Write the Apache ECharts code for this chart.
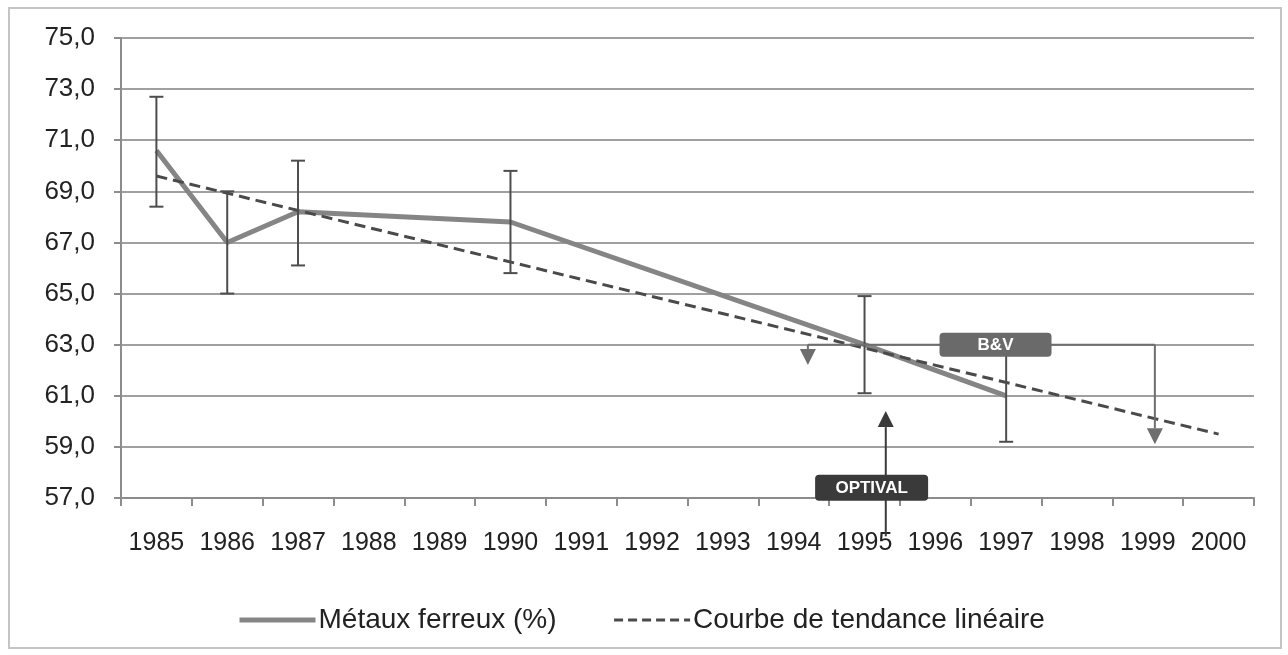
<!DOCTYPE html>
<html>
<head>
<meta charset="utf-8">
<script src="https://cdn.jsdelivr.net/npm/echarts@6/dist/echarts.min.js"></script>
<style>
  html, body { margin: 0; padding: 0; background: #fff; }
  #chart { width: 1288px; height: 655px; }
</style>
</head>
<body>
<div id="chart"></div>
<script>
// categories
const years = ['1985', '1986', '1987', '1988', '1989', '1990', '1991', '1992',
  '1993', '1994', '1995', '1996', '1997', '1998', '1999', '2000'];

// Métaux ferreux (%) : mesures, trous = pas de campagne
const metaux = [70.6, 67.0, 68.2, null, null, 67.8, null, null,
  null, null, 63.0, null, 61.0, null, null, null];
// barres d'erreur (bas / haut)
const errLow = [68.4, 65.0, 66.1, null, null, 65.8, null, null,
  null, null, 61.1, null, 59.2, null, null, null];
const errHigh = [72.7, 69.0, 70.2, null, null, 69.8, null, null,
  null, null, 64.9, null, 63.0, null, null, null];
// tendance linéaire : extrémités 1985 et 2000
const tendance = [69.6, null, null, null, null, null, null, null,
  null, null, null, null, null, null, null, 59.5];

// annotations (année fractionnaire, valeur)
const bvBracket = [[1994.2, 63.0], [1999.1, 63.0]];
const arrows = [
  [1994.2, 63.0, 62.2],
  [1999.1, 63.0, 59.1],
  [1995.3, 55.5, 60.4]
];
const labels = [
  [1996.85, 63.0, 'B&V', '#6a6a6a', 112, 24],
  [1995.1, 57.4, 'OPTIVAL', '#3a3a3a', 113, 26]
];

const yTicks = { min: 57, max: 75, interval: 2 };

const FONT = 'Liberation Sans';
const chart = echarts.init(document.getElementById('chart'));

const errData = errLow.map((lo, i) => lo == null ? null : [i, lo, errHigh[i]]).filter(d => d);

const option = {
  animation: false,
  textStyle: { fontFamily: FONT },
  graphic: [{
    type: 'rect',
    shape: { x: 9, y: 8, width: 1272, height: 640 },
    style: { fill: 'none', stroke: '#c4c4c4', lineWidth: 2 },
    silent: true
  }],
  grid: { left: 121, right: 34, top: 38, bottom: 157 },
  legend: {
    top: 601,
    left: 232,
    itemGap: 56,
    itemWidth: 76,
    itemHeight: 14,
    itemStyle: { opacity: 0 },
    textStyle: { fontSize: 28, color: '#222', fontFamily: FONT, padding: [0, 0, 0, -2] },
    data: [
      { name: 'Métaux ferreux (%)', lineStyle: { width: 5, color: '#858585' } },
      { name: 'Courbe de tendance linéaire', lineStyle: { width: 3, color: '#4a4a4a', type: [9, 5] } }
    ]
  },
  xAxis: [{
    type: 'category',
    data: years,
    boundaryGap: true,
    axisLine: { lineStyle: { color: '#8c8c8c', width: 2 } },
    axisTick: { show: true, length: 8, lineStyle: { color: '#8c8c8c', width: 2 } },
    axisLabel: { color: '#222', fontSize: 25, margin: 33, interval: 0, fontFamily: FONT },
    splitLine: { show: false }
  }, {
    type: 'value',
    min: 1984.5,
    max: 2000.5,
    show: false
  }],
  yAxis: {
    type: 'value',
    min: yTicks.min,
    max: yTicks.max,
    interval: yTicks.interval,
    axisLine: { show: true, lineStyle: { color: '#8c8c8c', width: 2 } },
    axisTick: { show: true, length: 7, lineStyle: { color: '#8c8c8c', width: 2 } },
    axisLabel: {
      color: '#222', fontSize: 26, margin: 26, fontFamily: FONT,
      formatter: v => v.toFixed(1).replace('.', ',')
    },
    splitLine: { lineStyle: { color: '#a0a0a0', width: 2 } }
  },
  series: [
    {
      name: 'Métaux ferreux (%)',
      type: 'line',
      data: metaux,
      connectNulls: true,
      symbol: 'none',
      z: 3,
      lineStyle: { color: '#858585', width: 5 },
      itemStyle: { color: '#858585' }
    },
    {
      name: 'Courbe de tendance linéaire',
      type: 'line',
      data: tendance,
      connectNulls: true,
      symbol: 'none',
      z: 4,
      lineStyle: { color: '#4a4a4a', width: 3, type: [11, 6] },
      itemStyle: { color: '#4a4a4a' }
    },
    {
      type: 'custom',
      name: 'erreur',
      data: errData,
      z: 5,
      renderItem: (params, api) => {
        const lo = api.coord([api.value(0), api.value(1)]);
        const hi = api.coord([api.value(0), api.value(2)]);
        const w = 7;
        const st = { stroke: '#4d4d4d', lineWidth: 2 };
        return {
          type: 'group',
          children: [
            { type: 'line', shape: { x1: lo[0], y1: lo[1], x2: hi[0], y2: hi[1] }, style: st },
            { type: 'line', shape: { x1: lo[0] - w, y1: lo[1], x2: lo[0] + w, y2: lo[1] }, style: st },
            { type: 'line', shape: { x1: hi[0] - w, y1: hi[1], x2: hi[0] + w, y2: hi[1] }, style: st }
          ]
        };
      }
    },
    {
      type: 'line',
      name: 'bv',
      xAxisIndex: 1,
      data: bvBracket,
      symbol: 'none',
      z: 5,
      lineStyle: { color: '#6e6e6e', width: 2 }
    },
    {
      type: 'custom',
      name: 'fleches',
      xAxisIndex: 1,
      data: arrows,
      clip: false,
      z: 6,
      renderItem: (params, api) => {
        const a = api.coord([api.value(0), api.value(1)]);
        const b = api.coord([api.value(0), api.value(2)]);
        const dir = b[1] > a[1] ? 1 : -1;
        const head = 16, hw = 8;
        const baseY = b[1] - dir * head;
        const color = dir > 0 ? '#6e6e6e' : '#3a3a3a';
        return {
          type: 'group',
          children: [
            { type: 'line', shape: { x1: a[0], y1: a[1], x2: a[0], y2: baseY }, style: { stroke: color, lineWidth: 2 } },
            { type: 'polygon', shape: { points: [[b[0] - hw, baseY], [b[0] + hw, baseY], [b[0], b[1]]] }, style: { fill: color } }
          ]
        };
      }
    },
    {
      type: 'custom',
      name: 'etiquettes',
      xAxisIndex: 1,
      data: labels,
      clip: false,
      z: 7,
      renderItem: (params, api) => {
        const p = api.coord([api.value(0), api.value(1)]);
        const d = labels[params.dataIndex];
        const w = d[4], h = d[5];
        return {
          type: 'group',
          children: [
            { type: 'rect', shape: { x: p[0] - w / 2, y: p[1] - h / 2, width: w, height: h, r: 4 }, style: { fill: d[3] } },
            { type: 'text', style: { x: p[0], y: p[1] + 1, text: d[2], fill: '#fff', font: 'bold 17px "Liberation Sans"', align: 'center', verticalAlign: 'middle' } }
          ]
        };
      }
    }
  ]
};

chart.setOption(option);
</script>
</body>
</html>
